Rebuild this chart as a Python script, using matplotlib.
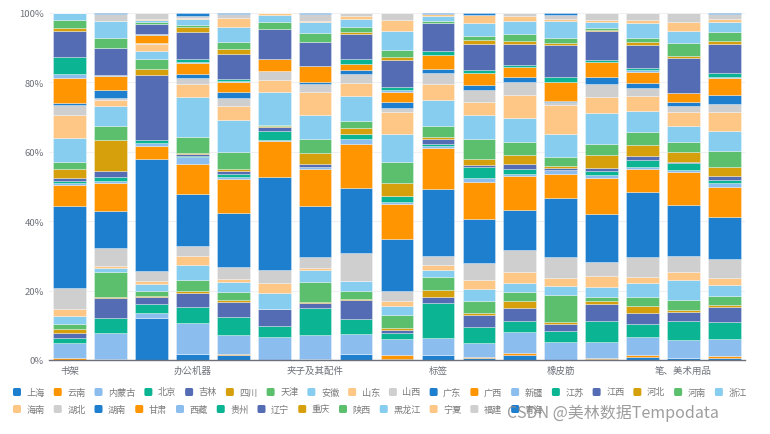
import matplotlib
matplotlib.use('Agg')
import matplotlib.pyplot as plt
from matplotlib.patches import FancyBboxPatch
from matplotlib.transforms import Affine2D
import numpy as np

plt.rcParams['font.family'] = ['Noto Sans CJK SC', 'DejaVu Sans']

# ---------------- data ----------------
categories = ["书架", "信封", "便签", "办公机器", "器具", "复印机", "夹子及其配件", "收纳具",
              "文件夹", "标签", "桌子", "椅子", "橡皮筋", "用品", "电话", "笔、美术用品", "纸张"]
label_every = 3

provinces = ["上海", "云南", "内蒙古", "北京", "吉林", "四川", "天津", "安徽", "山东", "山西",
             "广东", "广西", "新疆", "江苏", "江西", "河北", "河南", "浙江",
             "海南", "湖北", "湖南", "甘肃", "西藏", "贵州", "辽宁", "重庆", "陕西", "黑龙江",
             "宁夏", "福建", "青海"]

shanghai = [0.1, 0.4, 12.0, 1.6, 1.3, 0, 0.4, 1.8, 0.4, 1.3, 0.5, 1.3, 0, 0.4, 1.0, 0.5, 0.7]
yunnan = [0.4, 0, 0, 0, 0.3, 0, 0, 0, 1.1, 0, 0.5, 0.6, 0, 0.3, 0.4, 0, 0.5]
neimenggu = [4.3, 7.5, 1.6, 9.1, 5.6, 6.6, 6.7, 5.6, 4.7, 5.1, 4.0, 6.25, 5.3, 4.6, 5.3, 5.3, 5.0]
beijing = [1.4, 4.1, 2.6, 4.6, 5.3, 3.2, 8.0, 4.5, 1.7, 9.9, 4.5, 3.1, 3.1, 6.0, 3.8, 5.5, 4.9]
jilin = [1.6, 5.8, 1.9, 4.0, 4.2, 4.8, 1.25, 5.3, 0.8, 1.8, 3.65, 3.65, 2.1, 5.0, 3.0, 2.6, 4.2]
sichuan = [1.0, 0.4, 0.3, 0.5, 0.5, 0, 0.4, 0.3, 0.5, 2.0, 0.5, 2.1, 0.5, 0.8, 2.1, 0.5, 0.6]
tianjin = [1.6, 7.3, 1.4, 3.4, 2.4, 0, 5.8, 2.4, 3.8, 3.8, 3.4, 2.6, 7.7, 1.2, 2.6, 2.9, 2.6]
anhui = [2.4, 0.9, 2.1, 4.1, 3.0, 4.8, 3.5, 2.9, 2.6, 1.9, 3.6, 2.5, 2.7, 2.7, 3.9, 5.8, 3.2]
shandong = [1.9, 0.8, 0.8, 2.8, 0.9, 2.9, 0.4, 0, 1.4, 1.6, 2.4, 3.1, 2.4, 3.2, 1.8, 2.4, 1.9]
shanxi = [6.0, 5.0, 2.9, 2.7, 3.4, 3.8, 3.4, 8.0, 2.9, 2.6, 5.1, 6.4, 5.8, 4.0, 5.8, 4.6, 5.5]
guangdong = [23.7, 10.9, 32.2, 15.1, 15.4, 26.6, 14.7, 18.75, 15.2, 19.2, 12.7, 11.5, 17.3, 13.9, 18.75, 14.7, 12.2]
guangxi = [6.1, 7.9, 3.8, 8.5, 9.9, 10.4, 10.6, 12.7, 10.0, 12.0, 10.6, 9.9, 6.7, 10.4, 6.5, 9.3, 8.75]
xinjiang = [0.4, 0.5, 0.8, 2.1, 0.5, 0.5, 0.5, 1.4, 0.5, 0.5, 1.1, 0.5, 1.25, 0.9, 0.8, 0.7, 1.0]
jiangsu = [0.8, 1.25, 0.9, 0.3, 1.0, 2.4, 0, 1.4, 1.7, 0.6, 3.4, 1.4, 0, 1.1, 1.9, 1.9, 0.9]
jiangxi = [0.8, 1.7, 18.75, 0.5, 0.7, 1.2, 1.0, 0, 0, 1.35, 0.5, 1.4, 0.7, 1.0, 1.2, 0.5, 1.25]
hebei = [2.4, 9.1, 1.9, 0.5, 0.6, 0.3, 3.1, 1.6, 3.7, 0.6, 1.6, 2.7, 0.5, 3.6, 3.1, 2.7, 2.6]
henan = [2.1, 3.8, 2.7, 4.5, 5.0, 0.2, 3.9, 2.2, 6.2, 3.1, 5.8, 3.75, 2.4, 3.2, 3.9, 2.9, 4.6]
zhejiang = [7.0, 6.0, 2.4, 11.5, 9.1, 9.7, 7.2, 7.2, 8.2, 7.5, 7.2, 7.0, 6.7, 9.0, 6.0, 4.8, 5.8]
hainan = [6.7, 1.6, 1.9, 3.7, 4.1, 3.4, 6.6, 3.8, 6.25, 4.7, 3.6, 6.5, 8.4, 4.8, 4.3, 3.8, 5.3]
hubei = [2.8, 0.5, 0.3, 1.9, 2.4, 2.6, 2.2, 2.4, 1.1, 3.2, 3.5, 3.75, 0.8, 3.65, 2.1, 1.7, 2.4]
hunan = [0.6, 2.5, 0.2, 1.0, 1.6, 0, 0.7, 1.2, 1.8, 1.0, 1.35, 1.4, 0.5, 2.1, 1.5, 1.4, 2.7]
gansu = [7.1, 3.8, 2.1, 3.4, 2.9, 3.4, 4.4, 1.9, 2.9, 4.1, 3.5, 2.9, 5.3, 4.1, 3.3, 2.6, 4.7]
xizang = [1.2, 0.4, 0.3, 0.3, 0.5, 0, 0, 0, 0.5, 0, 0, 0, 0, 0, 0.5, 0, 0.3]
guizhou = [4.8, 0, 0, 0.7, 0.5, 0, 0, 1.25, 0.8, 1.2, 1.0, 0.6, 1.6, 0.8, 0.5, 0, 1.4]
liaoning = [7.7, 7.7, 2.9, 7.7, 7.2, 8.7, 7.1, 7.2, 8.0, 8.0, 7.6, 6.0, 9.2, 8.2, 6.8, 10.1, 8.2]
chongqing = [0.9, 0, 0, 1.6, 1.4, 0, 0, 0.5, 0.7, 0, 1.1, 1.0, 0.5, 0.4, 0.7, 0.5, 1.0]
shaanxi = [2.3, 2.9, 0.5, 0.6, 2.1, 1.9, 2.5, 1.6, 2.2, 0.7, 1.2, 1.9, 1.4, 0.6, 1.25, 3.65, 2.6]
heilongjiang = [1.9, 4.9, 0.7, 1.6, 4.3, 2.2, 3.1, 2.4, 5.5, 1.25, 3.65, 3.8, 5.0, 1.8, 4.3, 3.6, 2.7]
ningxia = [0, 0, 0.3, 0.5, 2.5, 0.5, 0.5, 0.6, 3.1, 0.7, 2.3, 1.25, 0.7, 0.6, 1.0, 2.4, 1.0]
fujian = [0, 2.1, 1.7, 0.5, 1.2, 0, 1.9, 1.0, 2.0, 0, 0, 1.0, 1.0, 1.9, 1.9, 2.7, 1.4]
qinghai = [0, 0.3, 0, 0.8, 0.3, 0, 0.3, 0, 0, 0.3, 0.6, 0, 0.6, 0, 0, 0, 0.3]

series_values = [shanghai, yunnan, neimenggu, beijing, jilin, sichuan, tianjin, anhui, shandong,
                 shanxi, guangdong, guangxi, xinjiang, jiangsu, jiangxi, hebei, henan, zhejiang,
                 hainan, hubei, hunan, gansu, xizang, guizhou, liaoning, chongqing, shaanxi,
                 heilongjiang, ningxia, fujian, qinghai]

palette = ['#1e7fcf', '#ff9500', '#8bbdee', '#0bb593', '#536cb3',
           '#d6a00c', '#5bbf6e', '#86cdef', '#ffc786', '#cfcfcf']

# ---------------- figure ----------------
W, H = 770, 435
fig = plt.figure(figsize=(W / 100, H / 100), dpi=100)
ax = fig.add_axes([49 / W, 1 - 361 / H, (745 - 49) / W, (361 - 14) / H])

vals = np.array(series_values, dtype=float)
pct = vals / vals.sum(axis=0) * 100.0
x = np.arange(len(categories))
bottom = np.zeros(len(categories))
for i, name in enumerate(provinces):
    ax.bar(x, pct[i], 0.8, bottom=bottom, color=palette[i % 10],
           edgecolor=(1, 1, 1, 0.45), linewidth=0.5, zorder=3, label=name)
    bottom += pct[i]

ax.set_xlim(-0.5, len(categories) - 0.5)
ax.set_ylim(0, 100)
ax.set_yticks(range(0, 101, 20))
ax.set_yticklabels([f"{v}%" for v in range(0, 101, 20)])
ax.set_xticks(x)
ax.set_xticklabels([c if i % label_every == 0 else "" for i, c in enumerate(categories)])
ax.grid(axis='y', color='#eef0f4', linewidth=0.8, zorder=0)
for s in ['top', 'right', 'left']:
    ax.spines[s].set_visible(False)
ax.spines['bottom'].set_color('#6e7079')
ax.spines['bottom'].set_linewidth(1.0)
ax.spines['bottom'].set_zorder(4)
ax.tick_params(axis='y', length=0, labelsize=6.8, colors='#6e7079', pad=3.6)
ax.tick_params(axis='x', length=0, labelsize=6.8, colors='#6e7079', pad=4.0)

# ---------------- legend ----------------
pix = Affine2D().scale(1 / 100) + fig.dpi_scale_trans
renderer = fig.canvas.get_renderer()
rows = [provinces[:18], provinces[18:]]
row_y = [393, 410]
k = 0
for r, items in enumerate(rows):
    xp = 13.0
    yc = H - row_y[r]
    for name in items:
        fig.patches.append(FancyBboxPatch((xp, yc - 4), 8, 8,
                                          boxstyle="round,pad=0,rounding_size=1.6",
                                          facecolor=palette[k % 10], edgecolor='none',
                                          transform=pix, figure=fig))
        t = fig.text(xp + 13.5, yc, name, transform=pix, fontsize=6.6,
                     color='#7a7a7a', va='center', ha='left')
        w = t.get_window_extent(renderer).width
        xp += 13.5 + w + 9.0
        k += 1

# watermark
fig.text(507, H - 413, "CSDN @美林数据Tempodata", transform=pix, fontsize=11.5,
         color='#8c8c8c', alpha=0.85, va='center', ha='left')

fig.savefig("out.png", dpi=100)
